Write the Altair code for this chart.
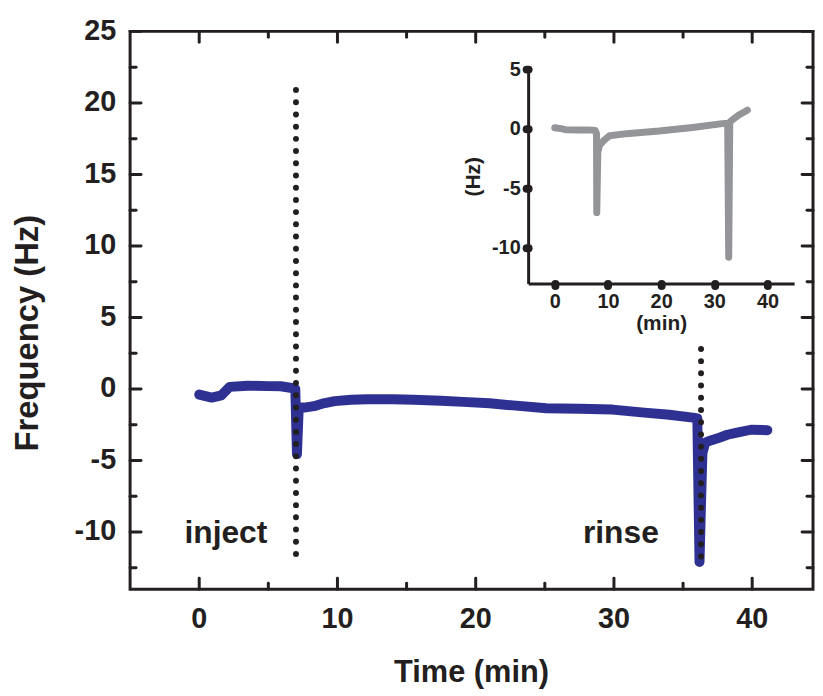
import altair as alt
import pandas as pd

# ---------------- data ----------------
main_t = [0.0, 0.9, 1.6, 2.2, 3.5, 5.0, 5.9, 6.7, 6.95, 7.07, 7.2, 7.6, 8.3, 9.0, 9.8,
          11.0, 12.2, 14.0, 15.5, 17.5, 19.1, 21.0, 22.7, 25.1, 27.5, 29.9, 32.2, 34.0,
          35.7, 36.03, 36.19, 36.3, 36.4, 36.6, 37.0, 37.5, 38.2, 38.9, 39.9, 41.1]
main_v = [-0.39, -0.6, -0.45, 0.15, 0.23, 0.2, 0.19, 0.07, 0.0, -4.55, -1.3, -1.3, -1.2,
          -1.0, -0.85, -0.75, -0.72, -0.72, -0.75, -0.82, -0.9, -1.0, -1.15, -1.35, -1.38,
          -1.44, -1.65, -1.8, -2.0, -2.05, -12.1, -8.0, -4.5, -3.75, -3.6, -3.45, -3.2,
          -3.05, -2.85, -2.88]

inset_t = [0.0, 1.2, 2.2, 4.5, 6.5, 7.6, 7.85, 7.9, 8.1, 8.4, 9.2, 10.3, 13.5, 19.6,
           25.9, 31.5, 32.5, 32.7, 32.9, 33.4, 34.6, 35.2, 36.2]
inset_v = [0.08, 0.0, -0.1, -0.12, -0.1, -0.15, -0.4, -7.05, -2.0, -1.4, -1.0, -0.6,
           -0.42, -0.2, 0.1, 0.42, 0.45, -10.8, 0.55, 0.75, 1.15, 1.3, 1.55]

marker_t = [7.0, 36.3]
marker_top = [20.9, 2.8]
marker_bottom = [-12.2, -12.5]

note_text = ["inject", "rinse"]
note_t = [1.93, 30.5]
note_v = [-10.8, -10.8]

x_title = "Time (min)"
y_title = "Frequency (Hz)"
x_major = [0, 10, 20, 30, 40]
x_minor = [5, 15, 25, 35]
y_major = [-10, -5, 0, 5, 10, 15, 20, 25]
y_minor = [-12.5, -7.5, -2.5, 2.5, 7.5, 12.5, 17.5, 22.5]
inset_x_ticks = [0, 10, 20, 30, 40]
inset_y_ticks = [-10, -5, 0, 5]

# ---------------- styling ----------------
FONT = "Liberation Sans"
INK = "#231f20"
BLUE = "#2e3192"
GRAY = "#939598"
W, H = 688, 562
XDOM = [-5, 44.4]
YDOM = [-14, 25]
MAJOR, MINOR = 11, 6            # tick lengths in pixels
PX_X = W / (XDOM[1] - XDOM[0])  # pixels per minute
PX_Y = H / (YDOM[1] - YDOM[0])  # pixels per Hz

main_df = pd.DataFrame({"t": main_t, "v": main_v})
inset_df = pd.DataFrame({"t": inset_t, "v": inset_v})
marker_df = pd.DataFrame({"t": marker_t, "top": marker_top, "bottom": marker_bottom})
note_df = pd.DataFrame({"t": note_t, "v": note_v, "label": note_text})


def xs():
    return alt.Scale(domain=XDOM, nice=False, zero=False)


def ys():
    return alt.Scale(domain=YDOM, nice=False, zero=False)


def X(field):
    return alt.X(field, scale=xs(), axis=None)


def Y(field):
    return alt.Y(field, scale=ys(), axis=None)


# main curve (carries a bare, invisible axis pair)
bare = dict(labels=False, ticks=False, domain=False, grid=False)
line = alt.Chart(main_df).mark_line(
    color=BLUE, strokeWidth=10, strokeCap="round", strokeJoin="round"
).encode(
    x=alt.X("t:Q", scale=xs(), title=None, axis=alt.Axis(orient="bottom", **bare)),
    y=alt.Y("v:Q", scale=ys(), title=None, axis=alt.Axis(orient="left", **bare)),
)

# dotted event markers
markers = alt.Chart(marker_df).mark_rule(
    color=INK, strokeWidth=6, strokeCap="round", strokeDash=[0, 12.3]
).encode(x=X("t:Q"), y=Y("top:Q"), y2="bottom:Q")

# annotations
notes = alt.Chart(note_df).mark_text(
    font=FONT, fontSize=32, fontWeight="bold", color=INK, align="center",
    baseline="alphabetic"
).encode(x=X("t:Q"), y=Y("v:Q"), text="label:N")


# inward tick marks on all four sides (position along the axis from the tick lists,
# tick length converted from pixels to data units)
def tick_table(values, edge, length, side):
    sign = 1 if edge in (XDOM[0], YDOM[0]) else -1
    return pd.DataFrame({"p": values, "a": [edge] * len(values),
                         "b": [edge + sign * length] * len(values),
                         "side": [side] * len(values)})


xtick_df = pd.concat([
    tick_table(x_major, YDOM[0], MAJOR / PX_Y, "bottom"),
    tick_table(x_minor, YDOM[0], MINOR / PX_Y, "bottom"),
    tick_table(x_major, YDOM[1], MAJOR / PX_Y, "top"),
    tick_table(x_minor, YDOM[1], MINOR / PX_Y, "top"),
], ignore_index=True)
ytick_df = pd.concat([
    tick_table(y_major, XDOM[0], MAJOR / PX_X, "left"),
    tick_table(y_minor, XDOM[0], MINOR / PX_X, "left"),
    tick_table(y_major, XDOM[1], MAJOR / PX_X, "right"),
    tick_table(y_minor, XDOM[1], MINOR / PX_X, "right"),
], ignore_index=True)

xticks = alt.Chart(xtick_df).mark_rule(color=INK, strokeWidth=3, strokeCap="round").encode(
    x=X("p:Q"), y=Y("a:Q"), y2="b:Q")
yticks = alt.Chart(ytick_df).mark_rule(color=INK, strokeWidth=3, strokeCap="round").encode(
    y=Y("p:Q"), x=X("a:Q"), x2="b:Q")

# tick labels (placed through the scales, offset from the frame edge)
xlab_df = pd.DataFrame({"p": x_major, "edge": [YDOM[0]] * len(x_major),
                        "lab": [str(v) for v in x_major]})
ylab_df = pd.DataFrame({"p": y_major, "edge": [XDOM[0]] * len(y_major),
                        "lab": [str(v) for v in y_major]})
txt = dict(font=FONT, fontWeight="bold", color=INK)
xlabels = alt.Chart(xlab_df).mark_text(
    fontSize=29, align="center", baseline="alphabetic", dy=39, **txt
).encode(x=X("p:Q"), y=Y("edge:Q"), text="lab:N")
ylabels = alt.Chart(ylab_df).mark_text(
    fontSize=29, align="right", baseline="alphabetic", dx=-14, dy=8.5, **txt
).encode(x=X("edge:Q"), y=Y("p:Q"), text="lab:N")

# axis titles
xtitle_df = pd.DataFrame({"x": [(XDOM[0] + XDOM[1]) / 2], "y": [YDOM[0]],
                          "lab": [x_title]})
ytitle_df = pd.DataFrame({"x": [XDOM[0] - 93 / PX_X], "y": [YDOM[1] - 304 / PX_Y],
                          "lab": [y_title]})
xtitle = alt.Chart(xtitle_df).mark_text(
    fontSize=31, align="center", baseline="alphabetic", dy=93, **txt
).encode(x=X("x:Q"), y=Y("y:Q"), text="lab:N")
ytitle = alt.Chart(ytitle_df).mark_text(
    fontSize=33, align="center", baseline="alphabetic", angle=270, **txt
).encode(x=X("x:Q"), y=Y("y:Q"), text="lab:N")

main = alt.layer(line, xticks, yticks, markers, notes, xlabels, ylabels, xtitle, ytitle)

# inset
inset_axis_style = dict(labelFont=FONT, titleFont=FONT, labelFontWeight="bold",
                        titleFontWeight="bold", labelColor=INK, titleColor=INK,
                        grid=False, domain=True, domainColor=INK, domainWidth=3,
                        ticks=True, tickSize=2, tickWidth=8, tickCap="round",
                        tickColor=INK, labelFontSize=20, titleFontSize=21,
                        labelFlush=False, labelExpr="toString(datum.value)")
inset = alt.Chart(inset_df).mark_line(
    color=GRAY, strokeWidth=7, strokeCap="round", strokeJoin="round"
).encode(
    x=alt.X("t:Q", title="(min)",
            scale=alt.Scale(domain=[-5, 45], range=[401, 669], nice=False, zero=False),
            axis=alt.Axis(orient="bottom", values=inset_x_ticks, offset=-308,
                          labelPadding=6, titlePadding=1, **inset_axis_style)),
    y=alt.Y("v:Q", title="(Hz)",
            scale=alt.Scale(domain=[-13, 5], range=[254, 38], nice=False, zero=False),
            axis=alt.Axis(orient="left", values=inset_y_ticks, offset=-401,
                          labelPadding=6, titlePadding=8, labelAlign="right",
                          **inset_axis_style)),
)

chart = alt.layer(main, inset).resolve_scale(
    x="independent", y="independent"
).resolve_axis(
    x="independent", y="independent"
).properties(
    width=W, height=H,
    autosize=alt.AutoSizeParams(type="none"),
    padding={"left": 123, "top": 21, "right": 2, "bottom": 105},
    background="white",
).configure_view(
    stroke=INK, strokeWidth=3
)

chart.save("out.html", embed_options={"renderer": "svg", "actions": False})
